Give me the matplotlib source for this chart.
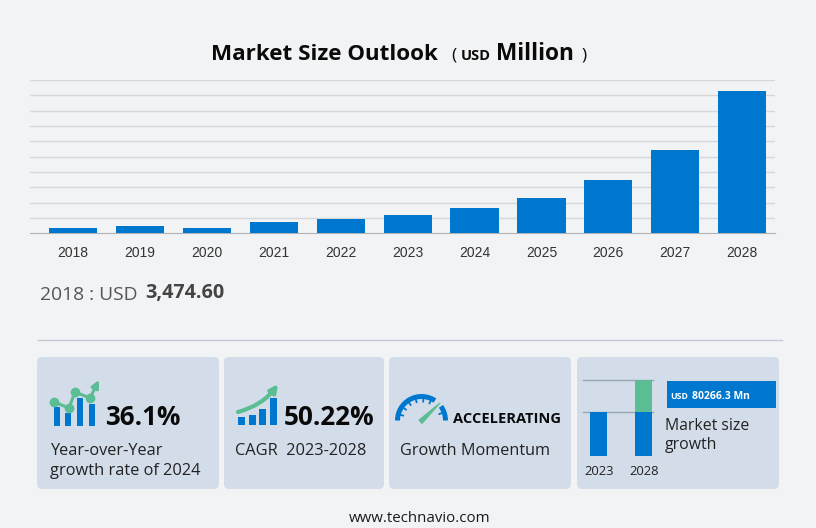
#!/usr/bin/env python3
import numpy as np
import matplotlib.pyplot as plt
from matplotlib.patches import FancyBboxPatch, Rectangle, Arc, FancyArrowPatch, Polygon

years = ['2018', '2019', '2020', '2021', '2022', '2023', '2024', '2025', '2026', '2027', '2028']
market_size = [3474.6, 5000, 3700, 7000, 9200, 12000, 16500, 23300, 34600, 54400, 92500]
grid_values = [10000 * i for i in range(1, 11)]

yoy_bars = [18.7, 13.3, 28.3, 22]
cagr_bars = [7.3, 9.7, 15.3, 26.3]
mini_years = ['2023', '2028']
mini_base = [44, 44]
mini_growth = [0, 32]

BG = '#f2f3f5'
CARD = '#d3dde9'
BLUE = '#0077cf'
GREEN = '#5bbd93'
UI = 'Open Sans'
W, H = 816, 528

fig = plt.figure(figsize=(W / 100, H / 100), dpi=100, facecolor=BG)

# bar chart, placed in pixels
ax = fig.add_axes([30 / W, 1 - 233.2 / H, 745 / W, 153.2 / H], facecolor='none')
ax.bar(range(len(years)), market_size, width=0.72, color=BLUE, zorder=3)
ax.set_xlim(-0.643, 10.49)
ax.set_ylim(0, 100000)
ax.set_yticks(grid_values)
ax.set_xticks(range(len(years)))
ax.set_xticklabels(years, family='Liberation Sans', fontsize=10, color='#333333')
ax.tick_params(axis='x', length=0, pad=9)
ax.tick_params(axis='y', length=0, labelleft=False)
ax.grid(axis='y', color='#d6d7db', lw=1, zorder=0)
for s in ['top', 'left', 'right']:
    ax.spines[s].set_visible(False)
ax.spines['bottom'].set_color('#b0b2b6')

# everything else in pixel coordinates
ov = fig.add_axes([0, 0, 1, 1], facecolor='none')
ov.set_xlim(0, W)
ov.set_ylim(H, 0)
ov.axis('off')


def txt(x, y, s, size, weight='normal', color='#222222', ha='left', family=UI):
    ov.text(x, y, s, fontsize=size, fontweight=weight, color=color, ha=ha, va='baseline', family=family)


txt(211, 59.5, 'Market Size Outlook', 16.15, 'bold', '#0a0a0a')
txt(451, 59.5, '(', 12.5, 'normal', '#0a0a0a')
txt(461, 59.5, 'USD', 10.5, 'bold', '#0a0a0a')
txt(496, 59.5, 'Million', 16.3, 'bold', '#0a0a0a')
txt(581, 59.5, ')', 12.5, 'normal', '#0a0a0a')

txt(40, 300, '2018 : USD', 13.9, 'normal', '#555555')
txt(145, 298, '3,474.60', 14.2, 'bold', '#444444')

ov.plot([38, 782], [340, 340], color='#c3c8d6', lw=1)

for x0, x1 in [(37, 219), (224, 384), (389, 571), (577, 779)]:
    ov.add_patch(FancyBboxPatch((x0 + 5, 362), x1 - x0 - 10, 122, boxstyle='round,pad=5,rounding_size=5',
                                fc=CARD, ec='none'))

# year over year card
for x, h in zip([54, 65, 77, 88.5], yoy_bars):
    ov.add_patch(Rectangle((x, 426 - h), 6, h, fc=BLUE, ec='none'))
line_x = [54, 69, 75, 90]
line_y = [402, 408, 392, 398]
ov.plot(line_x, line_y, color=GREEN, lw=2.2, marker='o', ms=6, solid_capstyle='round')
ov.add_patch(FancyArrowPatch((90, 398), (99, 380), arrowstyle='-|>', mutation_scale=11, color=GREEN, lw=2.2,
                             shrinkA=0, shrinkB=0))
txt(105, 425, '36.1%', 18.7, 'bold', '#0a0a0a')
txt(50, 455, 'Year-over-Year', 11.8)
txt(50, 475, 'growth rate of 2024', 11.8)

# cagr card
for x, h in zip([238.3, 248.5, 259, 269.5], cagr_bars):
    ov.add_patch(Rectangle((x, 424.7 - h), 7, h, fc=BLUE, ec='none'))
ov.add_patch(FancyArrowPatch((238, 412), (278, 384), connectionstyle='arc3,rad=0.18', arrowstyle='-|>',
                             mutation_scale=11, color=GREEN, lw=3, shrinkA=0, shrinkB=0))
txt(284, 425, '50.22%', 18.8, 'bold', '#0a0a0a')
txt(235, 455, 'CAGR  2023-2028', 11.8)

# momentum card, gauge
cx, cy, r = 421.5, 420.5, 24
ov.add_patch(Arc((cx, cy), 2 * r, 2 * r, theta1=180, theta2=304, color=BLUE, lw=3.6))
ov.add_patch(Arc((cx, cy), 2 * r, 2 * r, theta1=324, theta2=360, color=BLUE, lw=3.6))
for a in np.radians([195, 215, 235, 255, 275, 295, 340]):
    ov.plot([cx + (r - 1) * np.cos(a), cx + (r - 5) * np.cos(a)],
            [cy + (r - 1) * np.sin(a), cy + (r - 5) * np.sin(a)], color=BLUE, lw=1.3)
ov.add_patch(Polygon([(419, 420), (422, 423.5), (440, 403)], fc=GREEN, ec=GREEN, lw=0.8))
txt(453, 423, 'ACCELERATING', 10.5, 'bold', '#0a0a0a')
txt(400, 455, 'Growth Momentum', 11.7)

# market size growth card
for y in [380, 412.3]:
    ov.plot([583, 653], [y, y], color='#9aa6b8', lw=1, zorder=1)
for x, base, grow in zip([589.5, 634.5], mini_base, mini_growth):
    ov.add_patch(Rectangle((x, 456.3 - base), 17, base, fc=BLUE, ec='none', zorder=2))
    ov.add_patch(Rectangle((x, 456.3 - base - grow), 17, grow, fc=GREEN, ec='none', zorder=2))
for x, s in zip([599.5, 644.5], mini_years):
    txt(x, 475, s, 9.4, ha='center')
ov.add_patch(Rectangle((667, 381), 109, 27, fc=BLUE, ec='none'))
txt(670, 399, 'USD', 6.3, 'bold', 'white')
txt(692, 399, '80266.3 Mn', 7.5, 'bold', 'white')
txt(665, 430, 'Market size', 11.4)
txt(665, 449, 'growth', 11.4)

txt(420, 522, 'www.technavio.com', 10.8, 'normal', '#1a1a1a', ha='center')

fig.savefig('out.png', dpi=100, facecolor=BG)
